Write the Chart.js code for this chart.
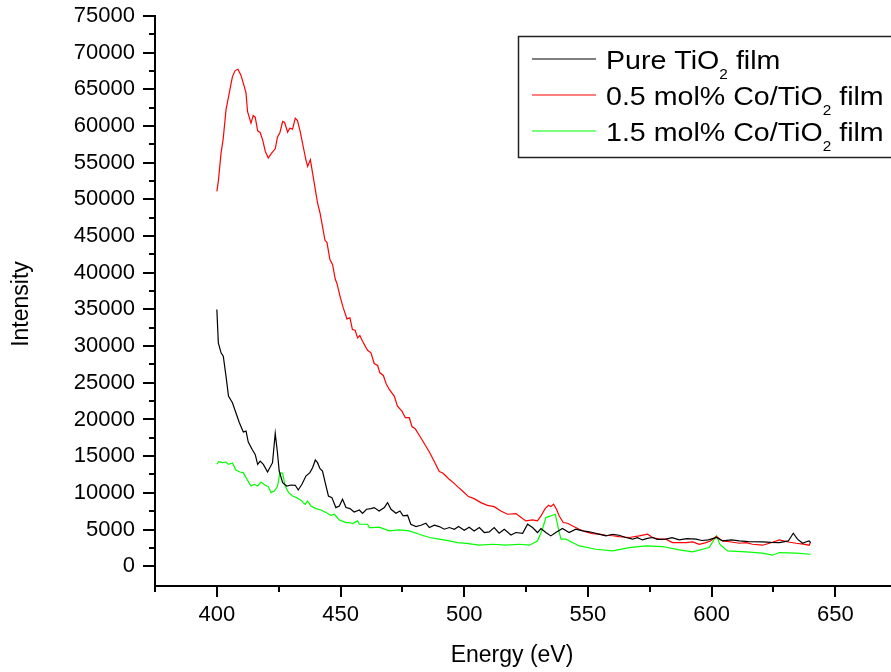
<!DOCTYPE html>
<html>
<head>
<meta charset="utf-8">
<script src="https://cdn.jsdelivr.net/npm/chart.js@4.4.1/dist/chart.umd.min.js"></script>
<style>
  html, body { margin: 0; padding: 0; background: #fff; }
  #wrap { width: 891px; height: 672px; }
</style>
</head>
<body>
<div id="wrap"><canvas id="xps" width="891" height="672"></canvas></div>
<script>
(() => {
  "use strict";

  // ── Data ─────────────────────────────────────────────────────────────────
  const pureEnergy = [
    400, 400.6, 401.7, 402.6, 403.7, 404.7, 406.3, 407.7, 409.1, 410.7,
    411.8, 412.7, 414.4, 415.5, 416.5, 417.5, 418.8, 420.5, 422.5, 423.6,
    424.5, 425.2, 426.6, 428.2, 430.0, 431.7, 432.9, 434.4, 436.0, 437.6,
    438.7, 439.8, 440.7, 441.7, 442.7, 443.8, 445.1, 446.5, 448.1, 449.5,
    450.8, 452.2, 453.8, 455.5, 457.6, 458.9, 460.5, 462.3, 463.6, 465.6,
    467.7, 469.0, 470.4, 472.4, 474.0, 475.3, 477.1, 478.4, 480.5, 482.5,
    484.5, 485.9, 487.9, 489.9, 491.9, 494.0, 496.0, 497.7, 500.0, 502.0,
    504.0, 506.1, 508.1, 510.1, 512.1, 514.1, 516.2, 518.9, 520.9, 523.6,
    525.6, 527.6, 529.6, 531.0, 533.0, 535.0, 537.0, 539.7, 542.4, 545.1,
    547.8, 550.0, 551.9, 554.0, 557.3, 560.0, 562.6, 565.0, 568.0, 570.0,
    572.1, 574.0, 576.1, 578.0, 581.5, 584.0, 586.9, 590.0, 593.7, 596.0,
    598.7, 602.0, 604.4, 608.0, 611.2, 615.0, 620.6, 624.0, 627.4, 631.0,
    633.0, 634.7, 636.8, 638.0, 639.4, 640.0,
  ];
  const pureIntensity = [
    35000, 30450, 29090, 28630, 25900, 23180, 22280, 20920, 19560, 18280,
    18420, 16920, 15830, 15240, 13880, 14330, 13880, 12840, 14110, 18100,
    15470, 12970, 11390, 10930, 11070, 11030, 10390, 11160, 12290, 12750,
    13430, 14470, 14110, 13300, 12970, 11390, 9570, 9350, 7990, 8210,
    9120, 7990, 7850, 7390, 7660, 7210, 7760, 7850, 7990, 7530,
    7990, 8670, 7760, 7210, 7530, 6850, 6940, 5720, 5400, 5580,
    5850, 5270, 5580, 5400, 5040, 5270, 5040, 5400, 4900, 5300,
    4800, 5270, 4590, 4670, 5270, 4490, 5040, 4260, 4590, 4490,
    5720, 5270, 4590, 5130, 4590, 4130, 4590, 5130, 4590, 5040,
    4810, 4700, 4590, 4400, 4130, 4350, 4220, 3950, 3680, 3900,
    3580, 3800, 3910, 3650, 3680, 3900, 3580, 3750, 3680, 3500,
    3580, 3910, 3440, 3600, 3440, 3350, 3310, 3250, 3220, 3440,
    4490, 3680, 3130, 3300, 3440, 3200,
  ];

  const co05Energy = [
    400, 400.6, 401.7, 402.6, 403.7, 405.0, 406.3, 407.4, 408.5, 409.7,
    411.1, 411.8, 412.4, 413.8, 414.7, 415.5, 416.5, 417.5, 418.5, 419.6,
    420.8, 421.9, 423.6, 424.5, 425.5, 426.6, 427.4, 428.6, 429.5, 430.6,
    431.7, 432.6, 433.7, 434.9, 436.0, 436.7, 437.8, 438.7, 439.8, 440.7,
    441.7, 442.7, 443.7, 444.5, 445.7, 446.8, 447.9, 448.5, 449.8, 451.1,
    452.6, 453.8, 454.8, 455.9, 456.9, 457.8, 458.9, 460.9, 462.3, 463.6,
    465.0, 465.9, 467.3, 468.4, 469.7, 471.7, 473.0, 474.8, 476.2, 477.8,
    478.9, 480.1, 483.0, 486.0, 488.0, 489.9, 491.3, 492.6, 493.9, 495.6,
    497.3, 499.3, 501.7, 504.0, 506.7, 509.4, 512.1, 514.8, 517.5, 520.9,
    522.2, 524.9, 527.6, 529.6, 531.0, 532.7, 534.1, 535.0, 536.1, 537.3,
    538.4, 540.0, 541.8, 543.8, 546.5, 549.2, 551.9, 554.6, 557.3, 560.0,
    562.6, 566.7, 570.7, 574.1, 576.1, 578.8, 581.5, 584.2, 589.6, 592.3,
    595.0, 597.7, 599.5, 601.9, 604.4, 608.0, 611.2, 614.0, 616.5, 620.6,
    624.0, 627.4, 631.0, 634.1, 637.0, 639.4, 640.0,
  ];
  const co05Intensity = [
    51100, 52450, 56300, 58350, 62200, 64480, 66740, 67560, 67740, 66970,
    65380, 64480, 61980, 60400, 61430, 61210, 59350, 59120, 58120, 56530,
    55630, 56210, 56900, 58490, 59120, 60620, 60480, 59170, 59710, 59580,
    61080, 60750, 59250, 57210, 55400, 54490, 55400, 53590, 51320, 49510,
    48150, 46320, 44420, 44150, 41790, 41110, 39070, 38610, 36790, 35210,
    33710, 33850, 32260, 32170, 31130, 31440, 30670, 29440, 29090, 27630,
    27360, 26360, 26000, 24910, 24090, 23180, 21820, 21140, 20240, 20240,
    19010, 18780, 17200, 15500, 14200, 12900, 12700, 12290, 11840, 11390,
    10840, 10250, 9490, 9210, 8670, 8300, 8120, 7530, 7080, 7170,
    6850, 6170, 6300, 6170, 6850, 7850, 8300, 8120, 8440, 7760,
    6850, 5950, 5850, 5490, 5040, 4670, 4450, 4360, 4220, 4150,
    4040, 3910, 4130, 4360, 3910, 3680, 3680, 3220, 3220, 3310,
    2990, 3220, 3440, 4050, 3440, 3300, 3130, 3200, 2990, 2860,
    3200, 3580, 3300, 3130, 3000, 2860, 3300,
  ];

  const co15Energy = [
    400, 400.7, 402.3, 403.7, 404.7, 406.3, 407.7, 409.3, 410.7, 412.2,
    413.8, 415.1, 416.5, 417.8, 419.6, 420.8, 421.9, 423.2, 424.5, 425.5,
    426.6, 427.6, 429.0, 430.6, 432.2, 433.3, 434.4, 434.9, 435.7, 436.7,
    438.0, 440.1, 442.1, 444.1, 446.1, 447.5, 449.5, 452.2, 453.5, 454.9,
    456.9, 457.6, 458.9, 460.9, 461.6, 462.9, 465.6, 469.7, 473.7, 477.8,
    481.8, 485.9, 489.9, 494.0, 497.3, 501.0, 506.1, 511.4, 516.8, 522.2,
    526.3, 529.6, 531.6, 533.0, 535.0, 536.8, 538.1, 539.1, 541.1, 546.5,
    553.2, 560.0, 566.7, 573.4, 580.2, 586.9, 592.3, 599.0, 601.1, 602.0,
    603.3, 606.4, 613.9, 620.6, 624.6, 627.4, 634.1, 640.0,
  ];
  const co15Intensity = [
    13900, 14250, 14110, 14200, 13880, 14060, 13110, 12840, 12750, 11840,
    10930, 11160, 10930, 11470, 11030, 10850, 10030, 10250, 10850, 12750,
    12660, 10930, 10030, 9570, 9350, 9120, 8890, 8670, 8440, 8890,
    8210, 7850, 7660, 7310, 6940, 7080, 6300, 5950, 5950, 5810,
    6170, 5720, 5720, 5720, 5270, 5270, 5330, 4810, 4950, 4810,
    4360, 3910, 3680, 3440, 3220, 3100, 2860, 2990, 2860, 2990,
    2860, 3440, 5040, 6630, 6850, 7080, 5040, 3680, 3680, 2760,
    2310, 2090, 2540, 2760, 2680, 2220, 1950, 2540, 3680, 4130,
    2990, 2090, 1950, 1770, 1500, 1860, 1770, 1630,
  ];

  const xMajorTicks = [400, 450, 500, 550, 600, 650];
  const xMinorTicks = [375, 425, 475, 525, 575, 625];
  const yMajorTicks = [0, 5000, 10000, 15000, 20000, 25000, 30000, 35000,
    40000, 45000, 50000, 55000, 60000, 65000, 70000, 75000];
  const yMinorTicks = [2500, 7500, 12500, 17500, 22500, 27500, 32500, 37500,
    42500, 47500, 52500, 57500, 62500, 67500, 72500];

  const SERIES = [
    { parts: [["Pure TiO"], ["2", true], [" film"]], color: "#000000" },
    { parts: [["0.5 mol% Co/TiO"], ["2", true], [" film"]], color: "#ff0000" },
    { parts: [["1.5 mol% Co/TiO"], ["2", true], [" film"]], color: "#00ff00" },
  ];

  const FONT = "'Liberation Sans', Arial, Helvetica, sans-serif";
  const STRETCH = 1.1; // the legend lettering in the original is a touch wide

  const toPoints = (xs, ys) => xs.map((x, i) => ({ x, y: ys[i] }));

  // ── Ticks, axis titles and the boxed legend ──────────────────────────────
  const decor = {
    id: "decor",
    afterDraw(chart) {
      const { ctx, chartArea: area } = chart;
      const xs = chart.scales.x;
      const ys = chart.scales.y;
      ctx.save();
      ctx.strokeStyle = "#000";
      ctx.lineWidth = 2;
      ctx.beginPath();
      yMajorTicks.forEach((v) => {
        const py = Math.round(ys.getPixelForValue(v));
        ctx.moveTo(area.left - 12, py);
        ctx.lineTo(area.left, py);
      });
      yMinorTicks.forEach((v) => {
        const py = Math.round(ys.getPixelForValue(v));
        ctx.moveTo(area.left - 6, py);
        ctx.lineTo(area.left, py);
      });
      xMajorTicks.forEach((v) => {
        const px = Math.round(xs.getPixelForValue(v));
        ctx.moveTo(px, area.bottom);
        ctx.lineTo(px, area.bottom + 11);
      });
      xMinorTicks.forEach((v) => {
        const px = Math.round(xs.getPixelForValue(v));
        ctx.moveTo(px, area.bottom);
        ctx.lineTo(px, area.bottom + 6);
      });
      ctx.stroke();

      // axis titles
      ctx.fillStyle = "#000";
      ctx.font = `23px ${FONT}`;
      ctx.textAlign = "center";
      ctx.textBaseline = "middle";
      ctx.fillText("Energy (eV)", 512, 656);
      ctx.save();
      ctx.translate(22, 304);
      ctx.rotate(-Math.PI / 2);
      ctx.fillText("Intensity", 0, 0);
      ctx.restore();

      // legend box
      ctx.lineWidth = 1.5;
      ctx.strokeStyle = "#222";
      ctx.strokeRect(518.5, 36.5, 400, 121);
      ctx.textAlign = "left";
      ctx.textBaseline = "alphabetic";
      SERIES.forEach((s, i) => {
        const base = 69 + i * 36;
        ctx.strokeStyle = s.color;
        ctx.lineWidth = 1.2;
        ctx.beginPath();
        ctx.moveTo(532, base - 10);
        ctx.lineTo(596, base - 10);
        ctx.stroke();
        let tx = 606;
        s.parts.forEach(([txt, sub]) => {
          ctx.font = sub ? `14px ${FONT}` : `26px ${FONT}`;
          ctx.save();
          ctx.translate(tx, sub ? base + 10 : base);
          ctx.scale(STRETCH, 1);
          ctx.fillText(txt, 0, 0);
          ctx.restore();
          tx += ctx.measureText(txt).width * STRETCH;
        });
      });
      ctx.restore();
    },
  };

  // ── Chart ────────────────────────────────────────────────────────────────
  function buildChart() {
    Chart.defaults.font.family = FONT;
    Chart.defaults.color = "#000";
    const ctx = document.getElementById("xps").getContext("2d");

    const line = (label, xs, ys, color) => ({
      label,
      data: toPoints(xs, ys),
      borderColor: color,
      backgroundColor: color,
      borderWidth: 1.2,
      pointRadius: 0,
      tension: 0,
      fill: false,
    });

    new Chart(ctx, {
      type: "line",
      data: {
        datasets: [
          line("Pure TiO2 film", pureEnergy, pureIntensity, "#000000"),
          line("0.5 mol% Co/TiO2 film", co05Energy, co05Intensity, "#ff0000"),
          line("1.5 mol% Co/TiO2 film", co15Energy, co15Intensity, "#00ff00"),
        ],
      },
      options: {
        responsive: false,
        animation: false,
        layout: { padding: { top: 16, right: 0, left: 0, bottom: 0 } },
        plugins: {
          legend: { display: false },
          tooltip: { enabled: false },
        },
        scales: {
          x: {
            type: "linear",
            min: 375,
            max: 672.5,
            grid: { display: false, drawTicks: false, tickLength: 0 },
            border: { display: true, color: "#000", width: 2 },
            ticks: { font: { size: 22 }, padding: 16, color: "#000" },
            afterBuildTicks: (s) => {
              s.ticks = xMajorTicks.map((v) => ({ value: v }));
            },
            afterFit: (s) => {
              s.height = 86;
              s.paddingLeft = 0;
              s.paddingRight = 0;
            },
          },
          y: {
            type: "linear",
            min: -2700,
            max: 75000,
            grid: { display: false, drawTicks: false, tickLength: 0 },
            border: { display: true, color: "#000", width: 2 },
            ticks: {
              font: { size: 22 },
              padding: 20,
              color: "#000",
              callback: (v) => String(v),
            },
            afterBuildTicks: (s) => {
              s.ticks = yMajorTicks.map((v) => ({ value: v }));
            },
            afterFit: (s) => {
              s.width = 155;
              s.paddingTop = 0;
              s.paddingBottom = 0;
            },
          },
        },
      },
      plugins: [decor],
    });
  }

  document.addEventListener("DOMContentLoaded", buildChart);
})();
</script>
</body>
</html>
